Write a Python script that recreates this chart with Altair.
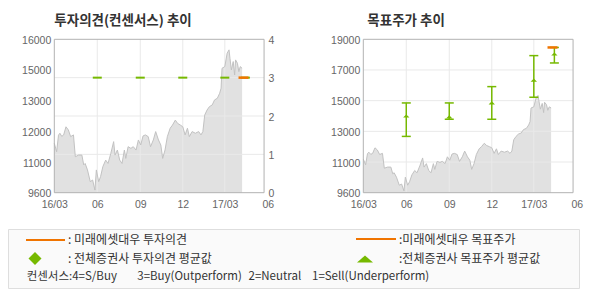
import altair as alt
import pandas as pd

# ---------------- data ----------------
price_dates = [
    "2016-03-01", "2016-03-06", "2016-03-10", "2016-03-13", "2016-03-17", "2016-03-21",
    "2016-03-26", "2016-03-31", "2016-04-05", "2016-04-11", "2016-04-15", "2016-04-22",
    "2016-04-29", "2016-05-03", "2016-05-06", "2016-05-11", "2016-05-17", "2016-05-22",
    "2016-05-27", "2016-05-30", "2016-06-04", "2016-06-08", "2016-06-13", "2016-06-19",
    "2016-06-24", "2016-06-30", "2016-07-06", "2016-07-09", "2016-07-14", "2016-07-19",
    "2016-07-24", "2016-07-29", "2016-08-01", "2016-08-06", "2016-08-12", "2016-08-17",
    "2016-08-23", "2016-08-28", "2016-09-02", "2016-09-07", "2016-09-12", "2016-09-18",
    "2016-09-23", "2016-09-29", "2016-10-04", "2016-10-10", "2016-10-15", "2016-10-19",
    "2016-10-24", "2016-10-29", "2016-11-04", "2016-11-09", "2016-11-15", "2016-11-20",
    "2016-11-26", "2016-12-01", "2016-12-06", "2016-12-11", "2016-12-15", "2016-12-21",
    "2016-12-28", "2017-01-04", "2017-01-09", "2017-01-13", "2017-01-17", "2017-01-22",
    "2017-01-27", "2017-02-02", "2017-02-07", "2017-02-13", "2017-02-18", "2017-02-21",
    "2017-02-23", "2017-03-01", "2017-03-06", "2017-03-10", "2017-03-12", "2017-03-15",
    "2017-03-19", "2017-03-22", "2017-03-24", "2017-03-28", "2017-03-31", "2017-04-03",
    "2017-04-07",
]
price_values = [
    11660, 11310, 12000, 12080, 11950, 12010,
    12350, 12220, 11940, 12010, 11100, 11170,
    11170, 10760, 10820, 10550, 10060, 10130,
    9710, 10550, 10060, 10270, 10690, 10960,
    10820, 11240, 11730, 11170, 11380, 10960,
    10820, 11380, 11030, 11520, 11450, 11520,
    11380, 11800, 11590, 11970, 12010, 11940,
    11520, 11800, 12150, 11800, 11590, 11030,
    11380, 11940, 12290, 12420, 12630, 12490,
    12420, 12350, 12010, 12290, 11940, 12150,
    12080, 12150, 12010, 12150, 12840, 13050,
    13190, 13260, 13470, 13540, 13750, 13960,
    14790, 14860, 15420, 15560, 15210, 14720,
    15070, 14510, 15140, 15000, 14650, 14860,
    14790,
]

consensus_dates = ["2016-06-01", "2016-09-01", "2016-12-01", "2017-03-01", "2017-04-14"]
consensus_avg = [3, 3, 3, 3, 3]
mirae_opinion_dates = ["2017-04-10"]
mirae_opinion = [3]

target_dates = ["2016-06-01", "2016-09-01", "2016-12-01", "2017-03-01", "2017-04-14"]
target_low = [13050, 14100, 14100, 15450, 17550]
target_avg = [14300, 14250, 15100, 16500, 18100]
target_high = [15100, 15100, 16100, 18000, 18500]
mirae_target_dates = ["2017-04-10"]
mirae_target = [18500]

time_domain = ["2016-03-01", "2017-06-01"]
plot_end = "2017-05-24"
month_ticks = ["2016-03-01", "2016-06-01", "2016-09-01", "2016-12-01", "2017-03-01", "2017-06-01"]
month_labels = ["16/03", "06", "09", "12", "17/03", "06"]
grid_months = ["2016-06-01", "2016-09-01", "2016-12-01", "2017-03-01"]

left_price_domain = [9600, 16000]
left_price_ticks = [9600, 10880, 12160, 13440, 14720, 16000]
left_price_labels = ["9600", "11000", "12000", "13000", "15000", "16000"]
right_price_domain = [9600, 19000]
right_price_ticks = [9600, 11480, 13360, 15240, 17120, 19000]
right_price_labels = ["9600", "11000", "13000", "15000", "17000", "19000"]
rating_domain = [0, 4]
rating_ticks = [0, 1, 2, 3, 4]
rating_grid = [1, 2, 3]

titles = ["투자의견(컨센서스) 추이", "목표주가 추이"]
legend_labels = [": 미래에셋대우 투자의견", ":미래에셋대우 목표주가",
                 ": 전체증권사 투자의견 평균값", ":전체증권사 목표주가 평균값"]
consensus_note = ["컨센서스:4=S/Buy", "3=Buy(Outperform)", "2=Neutral", "1=Sell(Underperform)"]

# ---------------- layout / style ----------------
W, H = 590, 300
L_X = [54.3, 267.8]
R_X = [363.3, 576.8]
Y_RANGE = [192.7, 39.3]
GREEN = "#76b900"
ORANGE = "#f07400"
AXIS_FONT = "Liberation Sans"
KFONT = "Noto Sans CJK KR"


def ms(s):
    return int(pd.Timestamp(s, tz="UTC").value // 10**6)


T_DOMAIN = [ms(d) for d in time_domain]
month_ms = [ms(d) for d in month_ticks]


def px(rng, s):
    t0, t1 = T_DOMAIN
    return rng[0] + (ms(s) - t0) / (t1 - t0) * (rng[1] - rng[0])


L_BORDER = px(L_X, plot_end)


def js_lookup(labels, values, key):
    lab = ",".join("'" + l + "'" for l in labels)
    val = ",".join(str(v) for v in values)
    return f"[{lab}][indexof([{val}], {key})]"


x_label_expr = js_lookup(month_labels, month_ms, "time(datum.value)")

axis_common = dict(ticks=False, domain=False, grid=False, labelFont=AXIS_FONT,
                   labelFontSize=10.5, labelColor="#666666", labelFlush=False,
                   labelOverlap=False, title=None)


def x_axis():
    return alt.Axis(orient="bottom", offset=Y_RANGE[0] - H, values=month_ms,
                    labelExpr=x_label_expr, labelPadding=6.5, **axis_common)


def X(field, rng, axis=None):
    return alt.X(field, type="temporal",
                 scale=alt.Scale(type="utc", domain=T_DOMAIN, range=rng, nice=False),
                 axis=axis)


def Y(field, dom, axis=None):
    return alt.Y(field, type="quantitative",
                 scale=alt.Scale(domain=dom, range=Y_RANGE, zero=False, nice=False),
                 axis=axis)


price_df = pd.DataFrame({"date": price_dates, "price": price_values})
one = pd.DataFrame({"k": [0]})

layers = []


def panel_price(rng, dom, ticks, labels, axis_x_px):
    y_axis = alt.Axis(orient="left", offset=-axis_x_px, values=ticks,
                      labelExpr=js_lookup(labels, ticks, "datum.value"),
                      labelPadding=3.5, labelOffset=1, **axis_common)
    area = alt.Chart(price_df).mark_area(color="#e1e1e1").encode(
        x=X("date", rng, x_axis()), y=Y("price", dom, y_axis),
        y2=alt.Y2Datum(dom[0]))
    line = alt.Chart(price_df).mark_line(color="#c2c2c2", strokeWidth=1).encode(
        x=X("date", rng), y=Y("price", dom))
    vgrid = alt.Chart(pd.DataFrame({"date": grid_months, "lo": [dom[0]] * len(grid_months),
                                    "hi": [dom[1]] * len(grid_months)})).mark_rule(
        color="#e9e9e9", strokeWidth=1).encode(
        x=X("date", rng), y=Y("lo", dom), y2="hi")
    return area, line, vgrid


def border(rng, dom):
    bdf = pd.DataFrame({"d1": [time_domain[0]], "d2": [plot_end], "v1": [dom[0]], "v2": [dom[1]]})
    return alt.Chart(bdf).mark_rect(filled=False, stroke="#b2b2b2", strokeWidth=1).encode(
        x=X("d1", rng), x2="d2", y=Y("v1", dom), y2="v2")


# ---- left panel: 투자의견 ----
aL, lL, gL = panel_price(L_X, left_price_domain, left_price_ticks, left_price_labels, L_X[0])
hgridL = alt.Chart(pd.DataFrame({"r": rating_grid, "d1": [time_domain[0]] * 3, "d2": [plot_end] * 3})).mark_rule(
    color="#e9e9e9", strokeWidth=1).encode(x=X("d1", L_X), x2="d2", y=Y("r", rating_domain))
rating_axis = alt.Axis(orient="right", offset=L_BORDER - W, values=rating_ticks, format="d",
                       labelPadding=4, labelOffset=1, **axis_common)
cons = alt.Chart(pd.DataFrame({"date": consensus_dates, "r": consensus_avg})).mark_tick(
    orient="horizontal", size=9, thickness=2, color=GREEN, opacity=1).encode(
    x=X("date", L_X), y=Y("r", rating_domain, rating_axis))
mirae_op = alt.Chart(pd.DataFrame({"date": mirae_opinion_dates, "r": mirae_opinion})).mark_tick(
    orient="horizontal", size=10, thickness=2.5, color=ORANGE, opacity=1).encode(
    x=X("date", L_X), y=Y("r", rating_domain))

layers += [aL, gL, hgridL, lL, border(L_X, left_price_domain), cons, mirae_op]

# ---- right panel: 목표주가 ----
aR, lR, gR = panel_price(R_X, right_price_domain, right_price_ticks, right_price_labels, R_X[0])
inner = right_price_ticks[1:-1]
hgridR = alt.Chart(pd.DataFrame({"v": inner, "d1": [time_domain[0]] * len(inner),
                                 "d2": [plot_end] * len(inner)})).mark_rule(
    color="#e9e9e9", strokeWidth=1).encode(x=X("d1", R_X), x2="d2", y=Y("v", right_price_domain))
tdf = pd.DataFrame({"date": target_dates, "lo": target_low, "avg": target_avg, "hi": target_high})
bars = alt.Chart(tdf).mark_rule(color=GREEN, strokeWidth=1.5).encode(
    x=X("date", R_X), y=Y("lo", right_price_domain), y2="hi")
cap_lo = alt.Chart(tdf).mark_tick(orient="horizontal", size=9, thickness=1.5, color=GREEN, opacity=1).encode(
    x=X("date", R_X), y=Y("lo", right_price_domain))
cap_hi = alt.Chart(tdf).mark_tick(orient="horizontal", size=9, thickness=1.5, color=GREEN, opacity=1).encode(
    x=X("date", R_X), y=Y("hi", right_price_domain))
TRI = "M-1,0.5L0,-0.5L1,0.5Z"
means = alt.Chart(tdf).mark_point(shape=TRI, filled=True, size=40, color=GREEN, opacity=1).encode(
    x=X("date", R_X), y=Y("avg", right_price_domain))
mirae_tp = alt.Chart(pd.DataFrame({"date": mirae_target_dates, "v": mirae_target})).mark_tick(
    orient="horizontal", size=10, thickness=2.5, color=ORANGE, opacity=1).encode(
    x=X("date", R_X), y=Y("v", right_price_domain))

layers += [aR, gR, hgridR, lR, border(R_X, right_price_domain), bars, cap_lo, cap_hi, means, mirae_tp]

# ---- titles ----
for t, xpos in zip(titles, [54.3, 367.3]):
    layers.append(alt.Chart(one).mark_text(font=KFONT, fontSize=13.5, fontWeight="bold",
                                           color="#333333", align="left", baseline="middle").encode(
        x=alt.value(xpos), y=alt.value(21), text=alt.value(t)))

# ---- legend ----
layers.append(alt.Chart(one).mark_rect(fill="#fafafa", stroke="#dedede", strokeWidth=1).encode(
    x=alt.value(8.5), x2=alt.value(579.5), y=alt.value(229.5), y2=alt.value(288.5)))
for x1, x2, yy in [(26, 65, 240), (356, 396, 239)]:
    layers.append(alt.Chart(one).mark_rule(color=ORANGE, strokeWidth=2.2).encode(
        x=alt.value(x1), x2=alt.value(x2), y=alt.value(yy)))
layers.append(alt.Chart(one).mark_point(shape="diamond", filled=True, size=169, color=GREEN, opacity=1).encode(
    x=alt.value(35), y=alt.value(258.5)))
layers.append(alt.Chart(one).mark_point(shape="M-1,0.44L0,-0.44L1,0.44Z", filled=True, size=256,
                                        color=GREEN, opacity=1).encode(x=alt.value(365), y=alt.value(259)))
for t, (xx, yy) in zip(legend_labels, [(68, 240), (399, 240), (68, 258.5), (399, 258.5)]):
    layers.append(alt.Chart(one).mark_text(font=KFONT, fontSize=12, color="#333333",
                                           align="left", baseline="middle").encode(
        x=alt.value(xx), y=alt.value(yy), text=alt.value(t)))
for t, xx in zip(consensus_note, [26.7, 137.3, 248.5, 312]):
    layers.append(alt.Chart(one).mark_text(font=KFONT, fontSize=11.5, color="#333333",
                                           align="left", baseline="middle").encode(
        x=alt.value(xx), y=alt.value(276.5), text=alt.value(t)))

chart = alt.layer(*layers).resolve_scale(x="independent", y="independent").properties(
    width=W, height=H, autosize=alt.AutoSizeParams(type="none"), padding=0,
    background="white").configure_view(stroke=None)

chart.save("out.html", embed_options={"renderer": "svg", "actions": False})
